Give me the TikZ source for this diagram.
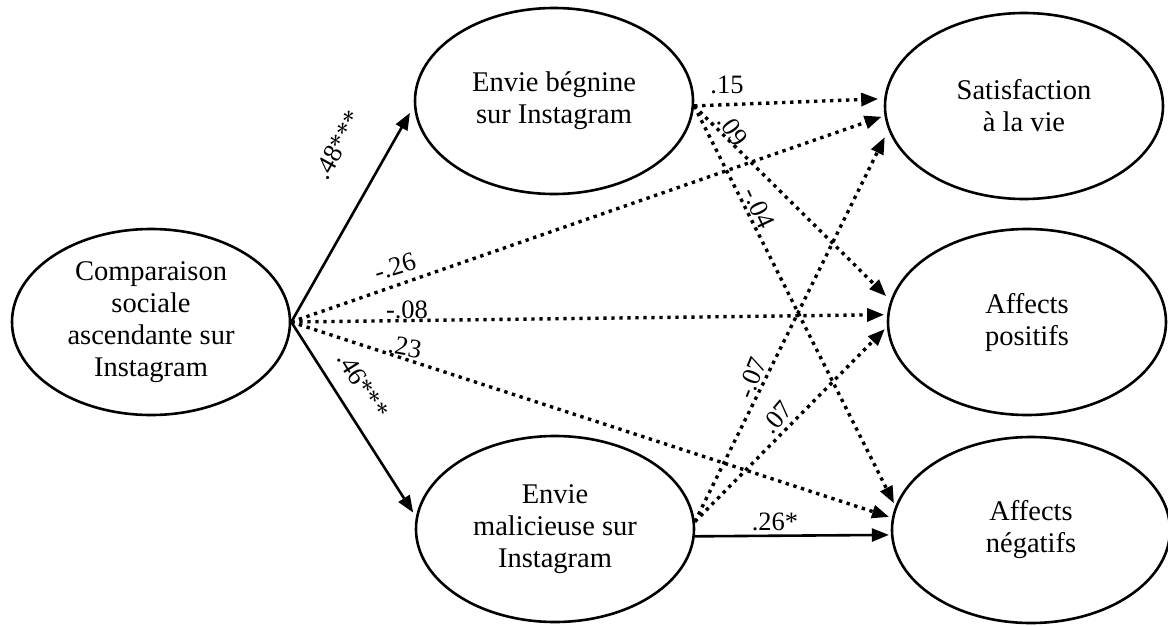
\documentclass[tikz,border=0pt]{standalone}
\usepackage{fontspec}
\setmainfont{Liberation Serif}
\usetikzlibrary{shapes.geometric,arrows.meta}
\begin{document}
\begin{tikzpicture}[x=1pt,y=-1pt,
  var/.style={draw, ellipse, line width=2.6pt, minimum width=278pt, minimum height=186pt, inner sep=0pt, align=center, font=\fontsize{28.5}{32}\selectfont},
  solidarrow/.style={line width=2.6pt, -{Triangle[length=17pt,width=13pt]}},
  dotarrow/.style={line width=3.4pt, dash pattern=on 3.4pt off 4.6pt, -{Triangle[length=17pt,width=13pt]}},
  lbl/.style={font=\fontsize{26.5}{30}\selectfont, inner sep=0pt}]
\useasboundingbox (0,0) rectangle (1168,625);
\node[var] (L) at (151,322) {Comparaison\\sociale\\ascendante sur\\Instagram};
\node[var] (B) at (554,101) {Envie bégnine\\sur Instagram};
\node[var] (M) at (555,529) {Envie\\malicieuse sur\\Instagram};
\node[var] (S) at (1024,106) {Satisfaction\\à la vie};
\node[var] (A) at (1027,322) {Affects\\positifs};
\node[var] (N) at (1031,530) {Affects\\négatifs};
% left node
\draw[solidarrow, shorten >=8pt] (L.east) -- (B.182);
\draw[solidarrow, shorten >=5pt] (L.east) -- (M.175);
\draw[dotarrow, shorten >=3pt] (L.east) -- (S.184.4);
\draw[dotarrow, shorten >=3pt] (L.east) -- (A.177.2);
\draw[dotarrow, shorten >=3pt] (L.east) -- (N.175.1);
% benign envy
\draw[dotarrow, shorten >=6pt] (B.-2) -- (S.177.6);
\draw[dotarrow, shorten >=6pt] (B.-2) -- (A.171.2);
\draw[dotarrow, shorten >=3pt] (B.-2) -- (N.170.8);
% malicious envy
\draw[dotarrow, shorten >=8pt] (M.3) -- (S.190.8);
\draw[dotarrow, shorten >=3pt] (M.3) -- (A.182);
\draw[solidarrow, shorten >=2pt] (M.-3) -- (N.182);
% labels
\node[lbl, rotate=61] (l1) at (338,145) {.48***};
\node[lbl, rotate=-58] (l2) at (363,385) {.46***};
\node[lbl, rotate=17] (l3) at (395,267) {-.26};
\node[lbl] (l4) at (407,310) {-.08};
\node[lbl, rotate=-10] (l5) at (405,347) {.23};
\node[lbl] (l6) at (727,85) {.15};
\node[lbl, rotate=-55] (l7) at (733,130) {.09};
\node[lbl, rotate=-65] (l8) at (759,208) {-.04};
\node[lbl, rotate=68] (l9) at (752,378) {-.07};
\node[lbl, rotate=50] (l10) at (777,417) {.07};
\node[lbl] (l11) at (775,522) {.26*};
\end{tikzpicture}
\end{document}
